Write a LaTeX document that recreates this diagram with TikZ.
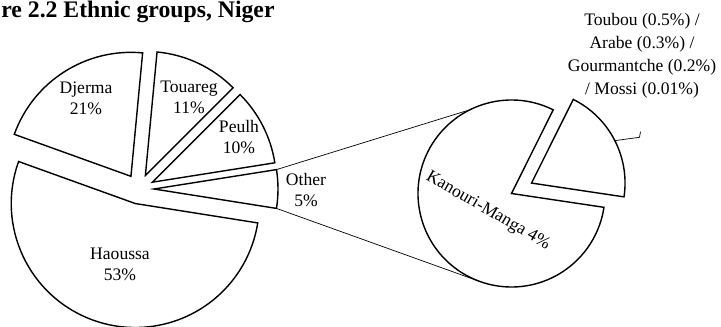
\documentclass[tikz,border=0pt]{standalone}
\usepackage{fontspec}
\setmainfont{Liberation Serif}

\tikzset{
    pie/.style={line width=0.8pt, line join=miter, fill=white},
    connector/.style={line width=0.4pt},
    slicelabel/.style={align=center, inner sep=1pt, font=\fontsize{10}{12}\selectfont}
}

\begin{document}
\begin{tikzpicture}[x=0.02cm, y=0.02cm]
        % ==== DEFINITIONS ====
        \def\R{124}    % radius of main pie
        \def\r{93.5}   % radius of second pie
        \def\off{15}   % explode distance, main pie

        \useasboundingbox (0,0) rectangle (721,326);

        % ==== TITLE ====
        \node[anchor=base west, inner sep=0pt, font=\bfseries\fontsize{13.5}{16}\selectfont] (title) at (1,308.5) {re 2.2 Ethnic groups, Niger};

        % ==== MAIN PIE ====
        \draw[pie, shift={(139,137)}, shift={(255.6:\off)}] (0,0) -- (160.2:\R) arc (160.2:351:\R) -- cycle;
        \draw[pie, shift={(139,137)}, shift={(0:\off)}] (0,0) -- (-9:\R) arc (-9:9:\R) -- cycle;
        \draw[pie, shift={(139,137)}, shift={(27:\off)}] (0,0) -- (9:\R) arc (9:45:\R) -- cycle;
        \draw[pie, shift={(139,137)}, shift={(64.8:\off)}] (0,0) -- (45:\R) arc (45:84.6:\R) -- cycle;
        \draw[pie, shift={(139,137)}, shift={(122.4:\off)}] (0,0) -- (84.6:\R) arc (84.6:160.2:\R) -- cycle;

        % ==== LABELS ====
        \node[slicelabel] (haoussa) at (120,62) {Haoussa\\53\%};
        \node[slicelabel] (djerma) at (86,227.5) {Djerma\\21\%};
        \node[slicelabel] (touareg) at (189,229) {Touareg\\11\%};
        \node[slicelabel] (peulh) at (239,189) {Peulh\\10\%};
        \node[slicelabel] (other) at (306,136) {Other\\5\%};

        % ==== SECOND PIE ====
        \draw[pie, shift={(511.5,132.5)}] (0,0) -- (63.5:\r) arc (63.5:351.5:\r) -- cycle;
        \draw[pie, shift={(511.5,132.5)}, shift={(27.5:22.6)}] (0,0) -- (-8.5:\r) arc (-8.5:63.5:\r) -- cycle;
        \node[rotate=-30, inner sep=0pt, font=\fontsize{10}{12}\selectfont] (kanouri) at (488,115) {Kanouri-Manga 4\%};
        \node[align=center, inner sep=0pt, font=\fontsize{10}{13}\selectfont] (minor) at (642,270) {Toubou (0.5\%) /\\Arabe (0.3\%) /\\Gourmantche (0.2\%)\\/ Mossi (0.01\%)};

        % ==== CONNECTORS ====
        \path (139,137) ++(0:\off) ++(9:\R) coordinate (othertop);
        \path (139,137) ++(0:\off) ++(-9:\R) coordinate (otherbot);
        \path (511.5,132.5) ++(116.4:\r) coordinate (kantop);
        \path (511.5,132.5) ++(250.6:\r) coordinate (kanbot);
        \draw[connector] (othertop) -- (kantop);
        \draw[connector] (otherbot) -- (kanbot);

        % ==== LEADER ====
        \path (511.5,132.5) ++(27.5:22.6) ++(27:\r) coordinate (minorarc);
        \coordinate (leaderbend) at (639.5,188.7);
        \coordinate (leadertop) at (640.5,194.3);
        \draw[connector] (minorarc) -- (leaderbend) -- (leadertop);
\end{tikzpicture}
\end{document}
